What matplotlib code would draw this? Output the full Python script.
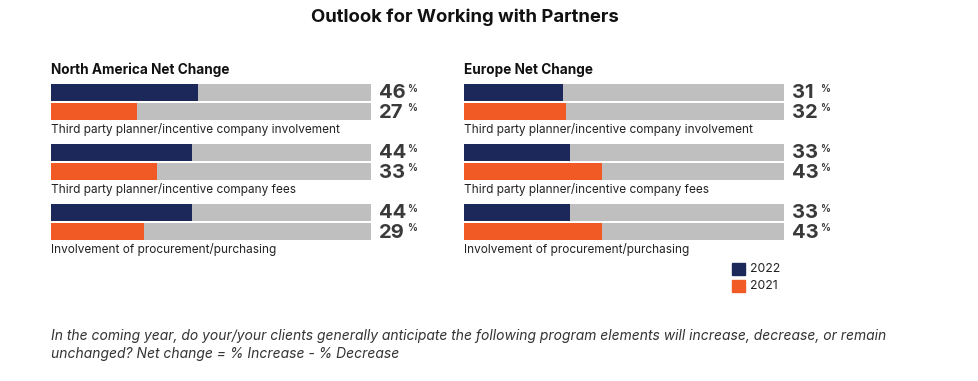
import matplotlib.pyplot as plt

plt.rcParams['font.family'] = ['Inter', 'DejaVu Sans']

categories = ["Third party planner/incentive company involvement",
              "Third party planner/incentive company fees",
              "Involvement of procurement/purchasing"]
na_2022 = [46, 44, 44]
na_2021 = [27, 33, 29]
eu_2022 = [31, 33, 33]
eu_2021 = [32, 43, 43]

NAVY = "#1c2859"
ORANGE = "#f15a24"
GRAY = "#bfbfbf"
TEXT = "#3a3a3a"

W, H = 979, 381
fig = plt.figure(figsize=(W / 100, H / 100), dpi=100)


def px(x, y):
    return x / W, 1 - y / H


def panel(x0, title, v22, v21):
    # axes spans pixels x0..x0+320 horizontally, 80..260 vertically (1 unit = 1 px)
    ax = fig.add_axes([x0 / W, 1 - 260 / H, 320 / W, 180 / H])
    ax.set_xlim(0, 100)
    ax.set_ylim(260, 80)
    ax.axis('off')
    for i, cat in enumerate(categories):
        c22 = 92.5 + 60 * i
        c21 = 111.5 + 60 * i
        for c, v, col in [(c22, v22[i], NAVY), (c21, v21[i], ORANGE)]:
            ax.barh(c, 100, height=17, color=GRAY, left=0)
            ax.barh(c, v, height=17, color=col, left=0)
            ax.text(102.6, c + 1, f"{v}", fontsize=14.5, fontweight='bold',
                    color=TEXT, va='center', ha='left', clip_on=False)
            ax.text(111.2, c - 3.5, "%", fontsize=7, fontweight='bold',
                    color=TEXT, va='center', ha='left', clip_on=False)
        ax.text(0, c22 + 37, cat, fontsize=8.5, color="#222222",
                va='center', ha='left')
    fig.text(*px(x0, 70), title, fontsize=9.8, fontweight='bold',
             color="#111111", va='center', ha='left')


panel(51, "North America Net Change", na_2022, na_2021)
panel(464, "Europe Net Change", eu_2022, eu_2021)

fig.text(*px(465, 17), "Outlook for Working with Partners", fontsize=13.3,
         fontweight='bold', color="#111111", ha='center', va='center')

# legend
for yy, col, lab in [(269, NAVY, "2022"), (286, ORANGE, "2021")]:
    x, y = px(732, yy + 6)
    fig.patches.append(plt.Rectangle((x, y), 13 / W, 12 / H, color=col,
                                     transform=fig.transFigure, figure=fig))
    fig.text(*px(750, yy), lab, fontsize=8.8, color="#222222",
             va='center', ha='left')

fig.text(*px(51, 336), "In the coming year, do your/your clients generally anticipate "
         "the following program elements will increase, decrease, or remain",
         fontsize=10, style='italic', color="#333333", va='center', ha='left')
fig.text(*px(51, 354), "unchanged? Net change = % Increase - % Decrease",
         fontsize=10, style='italic', color="#333333", va='center', ha='left')

fig.savefig("out.png", dpi=100)
